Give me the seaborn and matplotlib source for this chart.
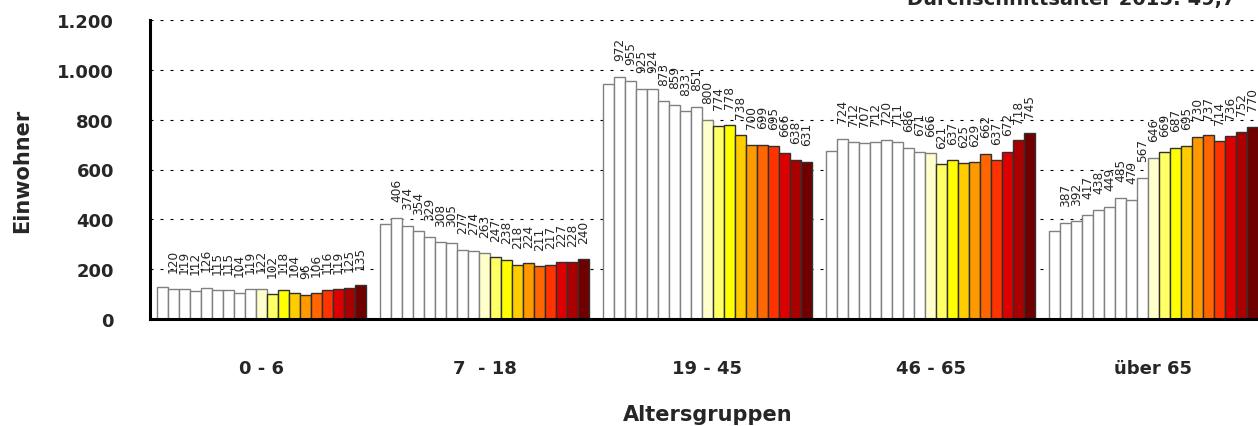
import pandas as pd
import seaborn as sns
import matplotlib.pyplot as plt
from matplotlib.ticker import FuncFormatter

# Altersgruppen und Jahre (19 Balken je Gruppe)
gruppen = ["0 - 6", "7  - 18", "19 - 45", "46 - 65", "über 65"]
jahre = ["1997", "1998", "1999", "2000", "2001", "2002", "2003", "2004", "2005", "2006",
         "2007", "2008", "2009", "2010", "2011", "2012", "2013", "2014", "2015"]

# Einwohner je Gruppe (erster Balken ohne Beschriftung)
werte_0_6 = [128, 120, 119, 112, 126, 115, 115, 104, 119, 122, 102, 118, 104, 96, 106, 116, 119, 125, 135]
werte_7_18 = [381, 406, 374, 354, 329, 308, 305, 277, 274, 263, 247, 238, 218, 224, 211, 217, 227, 228, 240]
werte_19_45 = [942, 972, 955, 925, 924, 873, 859, 833, 851, 800, 774, 778, 738, 700, 699, 695, 666, 638, 631]
werte_46_65 = [674, 724, 712, 707, 712, 720, 711, 686, 671, 666, 621, 637, 625, 629, 662, 637, 672, 718, 745]
werte_65 = [352, 387, 392, 417, 438, 449, 485, 479, 567, 646, 669, 687, 695, 730, 737, 714, 736, 752, 770]

farben = ["#ffffff"] * 9 + ["#ffffcc", "#ffff66", "#ffff00", "#ffcc00", "#ff9900",
                            "#ff6600", "#ff3300", "#dd0000", "#aa0000", "#700000"]
kanten = ["#808080"] * 10 + ["#303030"] * 9

alle = [werte_0_6, werte_7_18, werte_19_45, werte_46_65, werte_65]
rows = []
for g, werte in zip(gruppen, alle):
    for j, v in zip(jahre, werte):
        rows.append({"Gruppe": g, "Jahr": j, "Einwohner": v})
df = pd.DataFrame(rows)

sns.set_style("white")
plt.rcParams["font.family"] = ["DejaVu Sans"]

fig = plt.figure(figsize=(12.58, 4.27), dpi=100)
ax = fig.add_axes([150 / 1258, 107 / 427, 1115 / 1258, 299 / 427])

sns.barplot(data=df, x="Gruppe", y="Einwohner", hue="Jahr", order=gruppen, hue_order=jahre,
            palette=farben, width=0.937, gap=0, linewidth=1.0, saturation=1, legend=False,
            errorbar=None, ax=ax, zorder=2)

for i, cont in enumerate(ax.containers):
    for p in cont:
        p.set_edgecolor(kanten[i])
    if i == 0:
        continue
    ax.bar_label(cont, fmt="%d", rotation=90, padding=12, fontsize=8.7)

ax.set_ylim(0, 1200)
ax.set_xlim(-0.5, 4.5)
ax.set_yticks([0, 200, 400, 600, 800, 1000, 1200])
ax.yaxis.set_major_formatter(FuncFormatter(lambda v, p: f"{int(v):,}".replace(",", ".")))
ax.yaxis.grid(True, color="black", linewidth=0.8, linestyle=(0, (2.7, 6.3)), zorder=0)
ax.set_axisbelow(True)

sns.despine(ax=ax, top=True, right=True)
for s in ["left", "bottom"]:
    ax.spines[s].set_linewidth(2.2)
    ax.spines[s].set_color("black")

ax.set_xticks([-0.5, 0.5, 1.5, 2.5, 3.5, 4.5], minor=True)
ax.tick_params(axis="x", which="minor", direction="out", length=12, width=2, color="black")
ax.tick_params(axis="x", which="major", length=0, pad=29)
ax.tick_params(axis="y", which="major", direction="out", length=12, width=2.2, color="black", pad=14)
for lab in ax.get_xticklabels() + ax.get_yticklabels():
    lab.set_fontweight("bold")
    lab.set_fontsize(13)

ax.set_xlabel("Altersgruppen", fontsize=15, fontweight="bold", labelpad=19)
ax.set_ylabel("Einwohner", fontsize=15, fontweight="bold")
ax.yaxis.set_label_coords(-0.106, 0.5)

# Titel oben rechts, im Original am Rand abgeschnitten
fig.text(907 / 1258, 1 - 5 / 427, "Durchschnittsalter 2015: 49,7", fontsize=14,
         fontweight="bold", ha="left", va="baseline")

fig.savefig("out.png", dpi=100)
